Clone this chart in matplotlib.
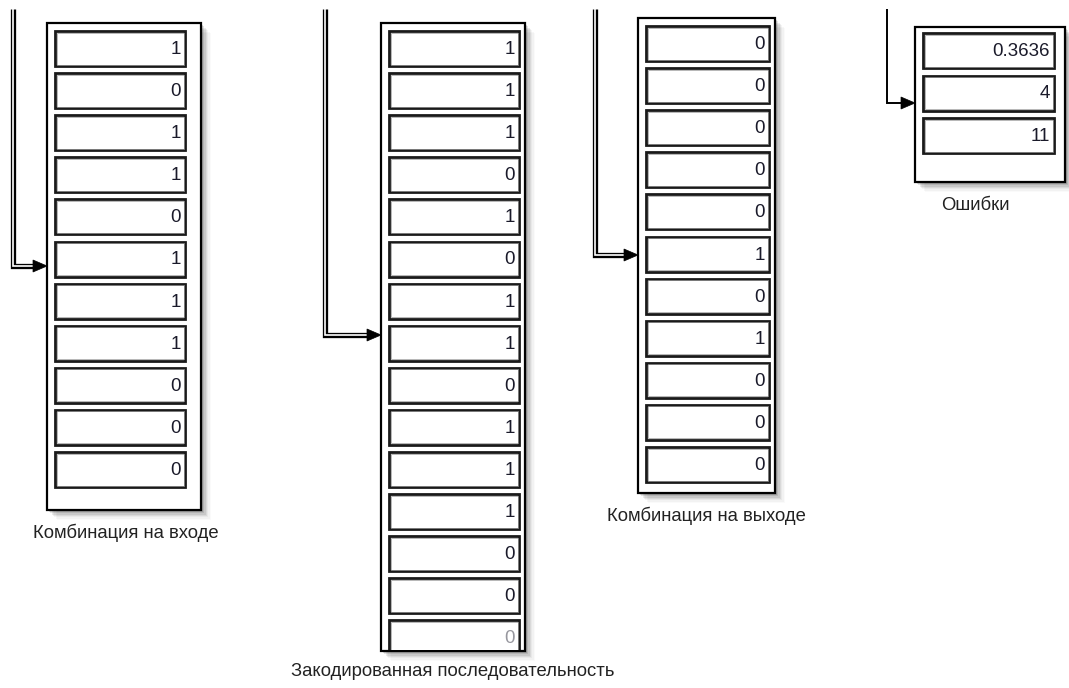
import matplotlib
matplotlib.use('Agg')
import matplotlib.pyplot as plt
from matplotlib.patches import Rectangle, Polygon

# Display values (Simulink-style display blocks)
input_bits = [1, 0, 1, 1, 0, 1, 1, 1, 0, 0, 0]
encoded_bits = [1, 1, 1, 0, 1, 0, 1, 1, 0, 1, 1, 1, 0, 0, 0]
output_bits = [0, 0, 0, 0, 0, 1, 0, 1, 0, 0, 0]
error_values = ['0.3636', '4', '11']

block_labels = ['Комбинация на входе', 'Закодированная последовательность',
                'Комбинация на выходе', 'Ошибки']

plt.rcParams['font.family'] = ['Liberation Sans', 'DejaVu Sans']

fig = plt.figure(figsize=(10.69, 6.88), dpi=100)
ax = fig.add_axes([0, 0, 1, 1])
ax.set_xlim(0, 1069)
ax.set_ylim(688, 0)
ax.axis('off')


def draw_block(values, box, cell_x, cell_y0, pitch, label, label_pos, faded_last=False):
    bx0, by0, bx1, by1 = box
    # drop shadow
    for i, a in enumerate([0.13, 0.10, 0.08, 0.06, 0.04, 0.03, 0.02]):
        d = 2 + i * 1.3
        ax.add_patch(Rectangle((bx0 + d, by0 + d), bx1 - bx0, by1 - by0,
                               facecolor='black', edgecolor='none', alpha=a, zorder=1))
    outer = Rectangle((bx0, by0), bx1 - bx0, by1 - by0, facecolor='white',
                      edgecolor='black', lw=1.6, zorder=2)
    ax.add_patch(outer)
    clip = Rectangle((bx0 + 1, by0 + 1), bx1 - bx0 - 2, by1 - by0 - 2,
                     transform=ax.transData, facecolor='none', edgecolor='none')
    ax.add_patch(clip)
    cx0, cx1 = cell_x
    for k, v in enumerate(values):
        y = cell_y0 + k * pitch
        cell = Rectangle((cx0, y), cx1 - cx0, 35, facecolor='white',
                         edgecolor='#1a1a1a', lw=2.0, zorder=3)
        ax.add_patch(cell)
        cell.set_clip_path(clip)
        inner = Rectangle((cx0 + 1.5, y + 1.5), cx1 - cx0 - 3, 32, facecolor='none',
                          edgecolor='#9a9a9a', lw=0.5, zorder=3)
        ax.add_patch(inner)
        inner.set_clip_path(clip)
        alpha = 0.45 if (faded_last and k == len(values) - 1) else 1.0
        t = ax.text(cx1 - 4, y + 18.5, str(v), ha='right', va='center', fontsize=13.5,
                    color='#1a1a2a', alpha=alpha, zorder=4)
        t.set_clip_path(clip)
    ax.text(label_pos[0], label_pos[1], label, ha='center', va='center',
            fontsize=13.3, color='#222222', zorder=4)


def draw_wire(x, y_top, y_turn, tip_x, double=True):
    base_x = tip_x - 14
    xs = [x, x, base_x]
    ys = [y_top, y_turn, y_turn]
    if double:
        ax.plot(xs, ys, color='black', lw=3.8, solid_joinstyle='miter',
                solid_capstyle='butt', zorder=5)
        ax.plot(xs, ys, color='white', lw=1.2, solid_joinstyle='miter',
                solid_capstyle='butt', zorder=6)
    else:
        ax.plot(xs, ys, color='black', lw=1.4, solid_joinstyle='miter',
                solid_capstyle='butt', zorder=5)
    ax.add_patch(Polygon([(base_x, y_turn - 6), (tip_x, y_turn), (base_x, y_turn + 6)],
                         closed=True, facecolor='black', edgecolor='black', lw=0.5, zorder=7))


draw_block(input_bits, (47, 23, 201, 510), (55, 185), 31, 42.1,
           block_labels[0], (126, 533))
draw_block(encoded_bits, (381, 23, 525, 651), (389, 519), 31, 42.1,
           block_labels[1], (453, 672), faded_last=True)
draw_block(output_bits, (638, 18, 775, 493), (646, 769), 26, 42.1,
           block_labels[2], (706, 516))
draw_block(error_values, (915, 27, 1065, 182), (923, 1054), 33, 42.5,
           block_labels[3], (975, 205))

draw_wire(13, 9, 266, 47)
draw_wire(325, 9, 335, 381)
draw_wire(595, 9, 255, 638)
draw_wire(887, 9, 103, 915, double=False)

fig.savefig('out.png', dpi=100, facecolor='white')
